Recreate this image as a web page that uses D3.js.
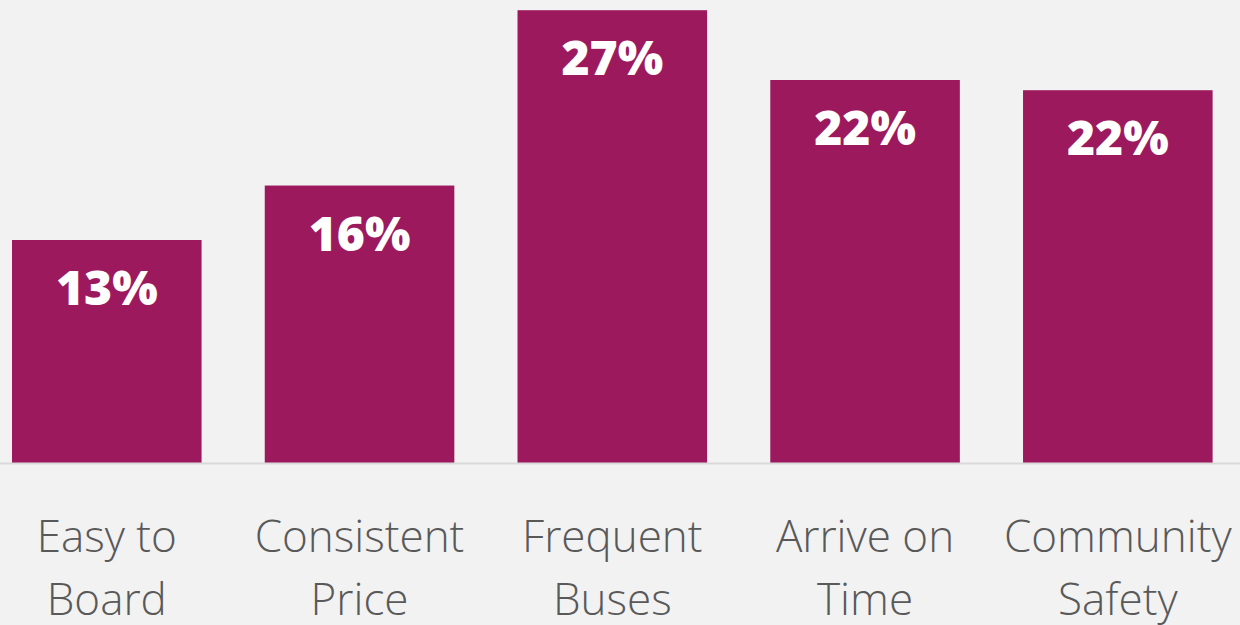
<!DOCTYPE html>
<html>
<head>
<meta charset="utf-8">
<script src="https://cdn.jsdelivr.net/npm/d3@7"></script>
<style>
  html, body { margin: 0; padding: 0; background: #f2f2f2; overflow: hidden; }
  svg { display: block; }
</style>
</head>
<body>
<svg id="chart"></svg>
<script>
var categories = [['Easy to', 'Board'], ['Consistent', 'Price'], ['Frequent', 'Buses'], ['Arrive on', 'Time'], ['Community', 'Safety']]
var values = [13.1, 16.3, 26.6, 22.5, 21.9]
var labels = ['13%', '16%', '27%', '22%', '22%']

var width = 1240
  , height = 625
  , base = 463

var svg = d3.select('#chart').attr('width', width).attr('height', height)

svg.append('rect').attr('width', width).attr('height', height).attr('fill', '#f2f2f2')

var x = d3.scaleBand()
  .domain(d3.range(values.length))
  .range([-19.6, 1244.2])
  .paddingInner(0.25)
  .paddingOuter(0.125)

var y = d3.scaleLinear().domain([0, 27.2]).range([base, 0])

svg.selectAll('rect.bar').data(values)
  .enter().append('rect')
  .attr('class', 'bar')
  .attr('x', function (d, i) { return x(i) })
  .attr('y', function (d) { return y(d) })
  .attr('width', x.bandwidth())
  .attr('height', function (d) { return y(0) - y(d) })
  .attr('fill', '#9c195e')

// baseline
svg.append('line')
  .attr('x1', 0).attr('x2', width)
  .attr('y1', y(0) + 0.5).attr('y2', y(0) + 0.5)
  .attr('stroke', '#d9d9d9').attr('stroke-width', 2)

svg.selectAll('text.val').data(values)
  .enter().append('text')
  .attr('class', 'val')
  .attr('x', function (d, i) { return x(i) + x.bandwidth() / 2 })
  .attr('y', function (d) { return y(d) + 65 })
  .attr('text-anchor', 'middle')
  .attr('fill', '#fff')
  .style('font-family', '"Open Sans", sans-serif')
  .style('font-weight', 800)
  .style('font-size', '48px')
  .text(function (d, i) { return labels[i] })

var cat = svg.selectAll('text.cat').data(categories)
  .enter().append('text')
  .attr('class', 'cat')
  .attr('text-anchor', 'middle')
  .attr('fill', '#595959')
  .style('font-family', '"Segoe UI Light", "Open Sans", sans-serif')
  .style('font-weight', 300)
  .style('font-size', '44px')

cat.selectAll('tspan').data(function (d, i) { return d.map(function (t) { return { t: t, i: i } }) })
  .enter().append('tspan')
  .attr('x', function (d) { return x(d.i) + x.bandwidth() / 2 })
  .attr('y', function (d, j) { return 552 + j * 63 })
  .text(function (d) { return d.t })
</script>
</body>
</html>
